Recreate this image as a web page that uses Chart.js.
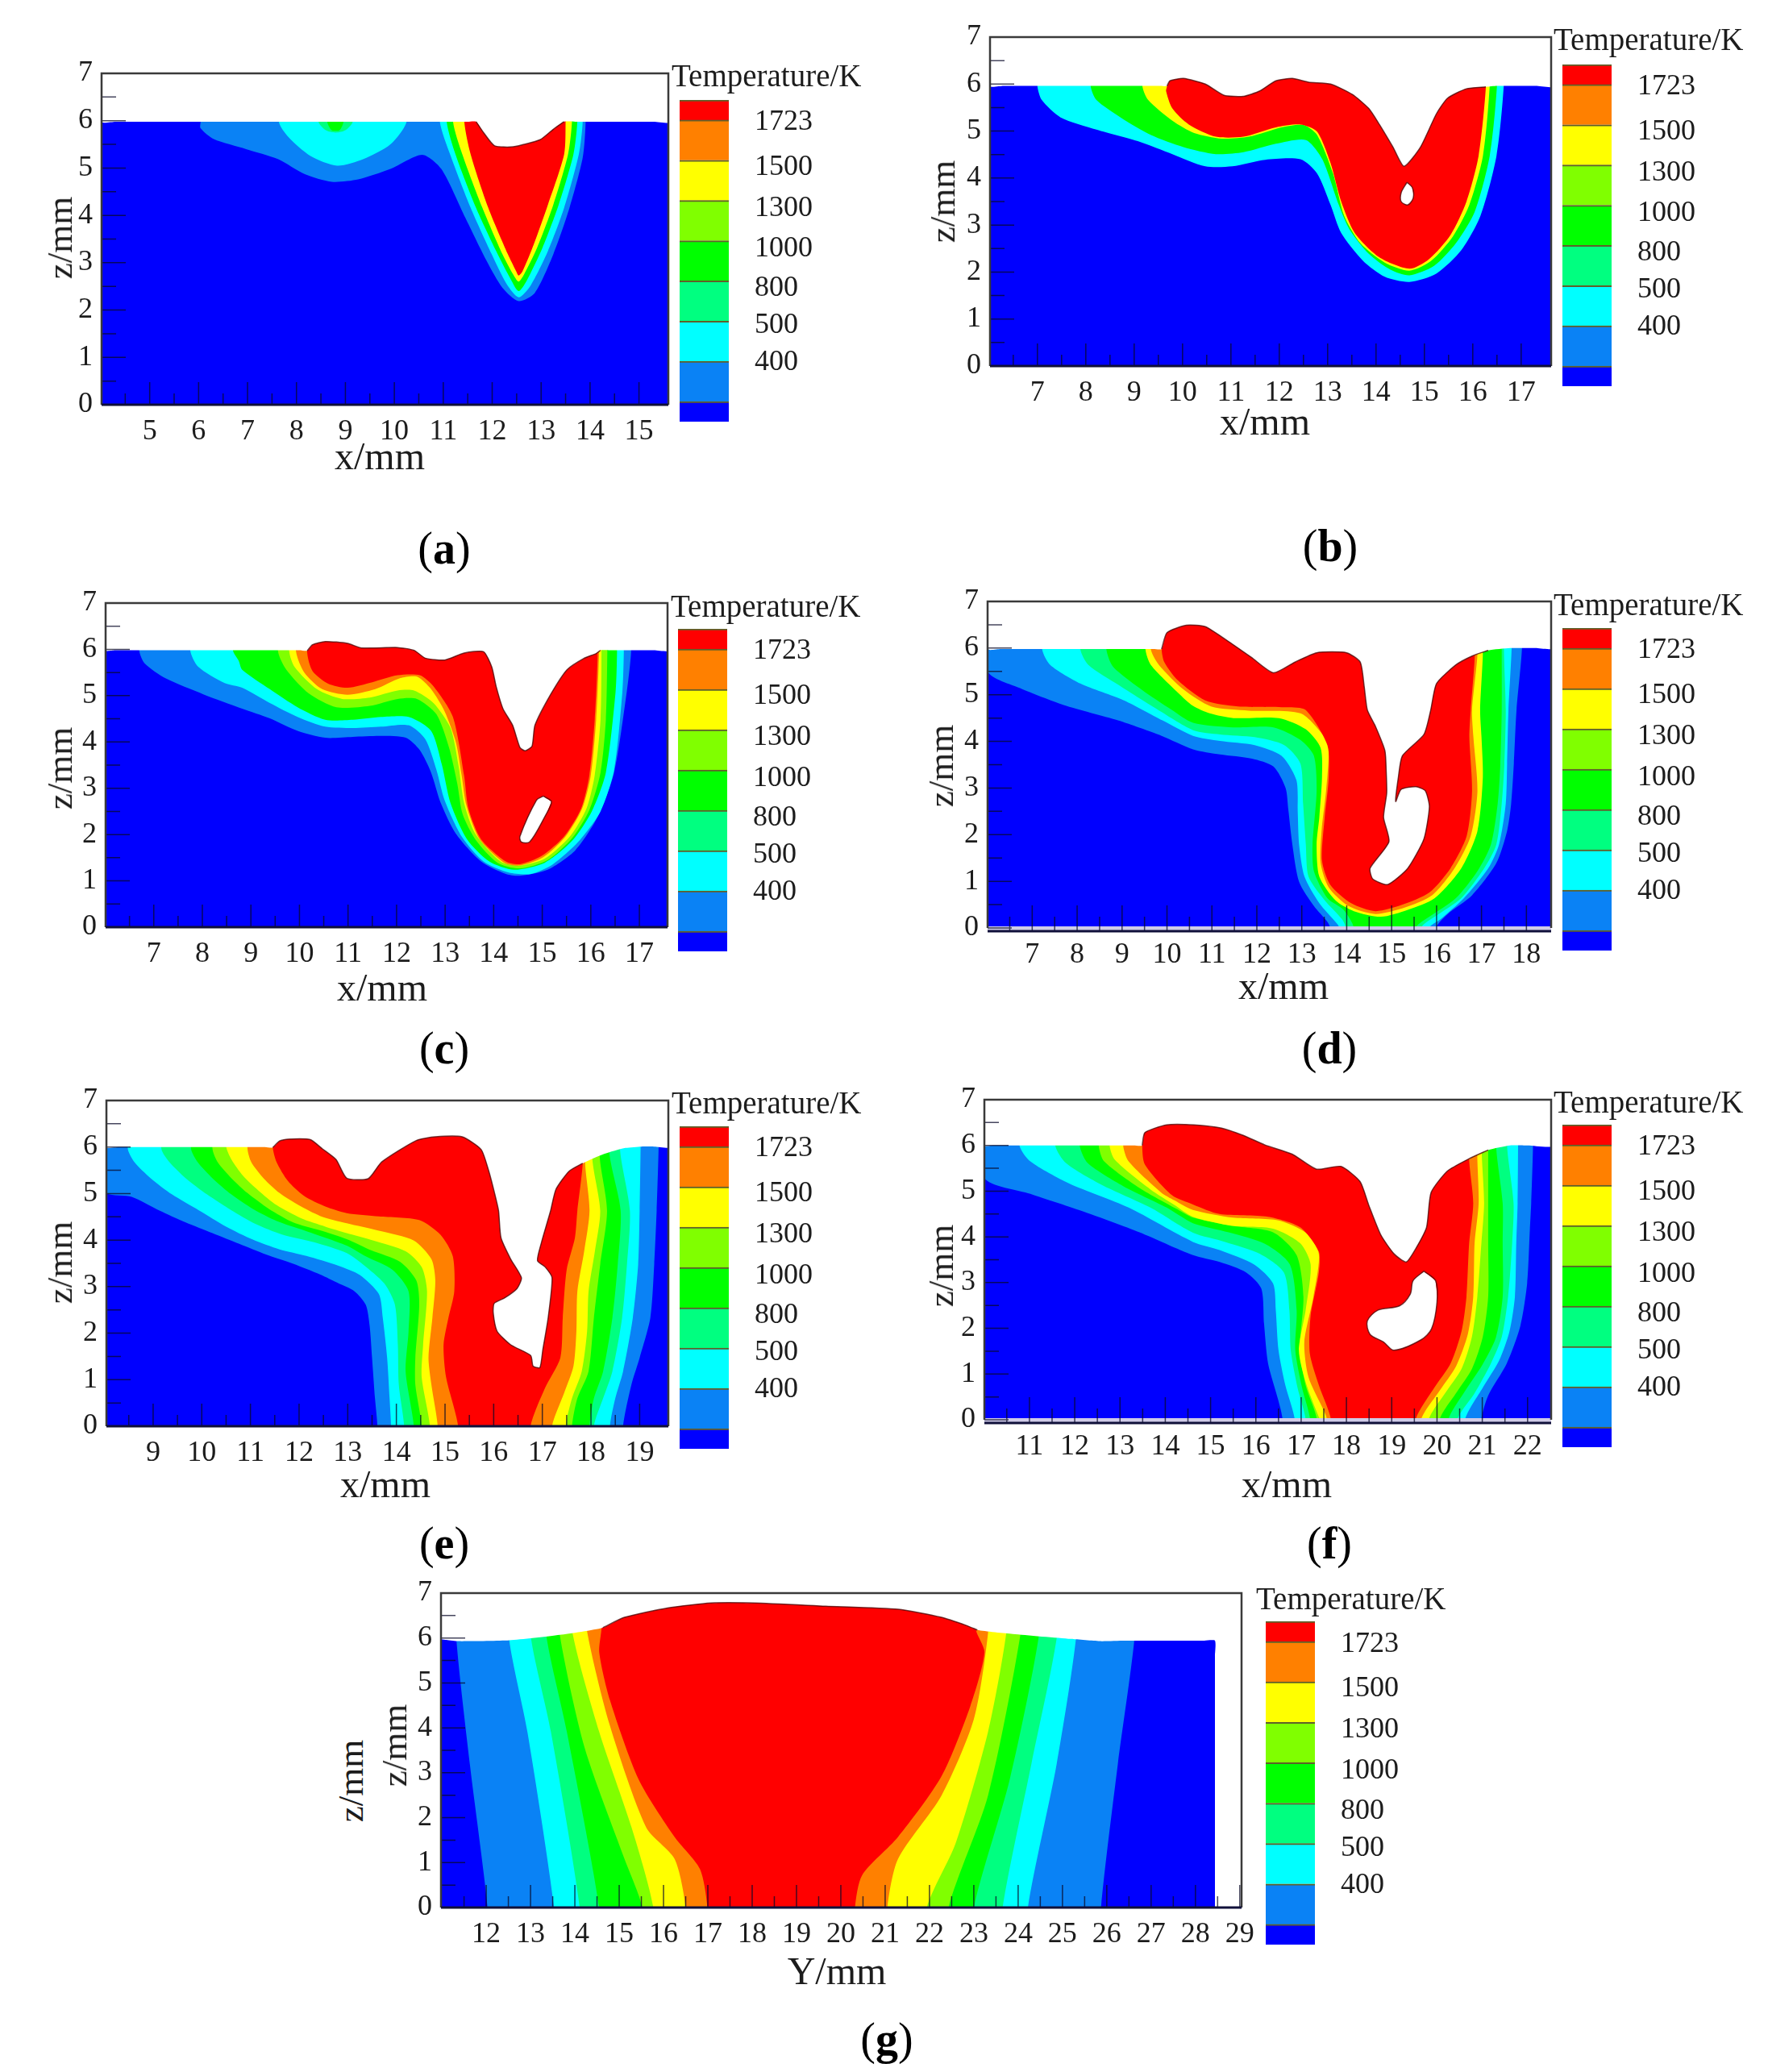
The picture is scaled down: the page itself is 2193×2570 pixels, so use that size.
<!DOCTYPE html>
<html>
<head>
<meta charset="utf-8">
<title>Temperature fields</title>
<script src="https://cdn.jsdelivr.net/npm/chart.js@4/dist/chart.umd.min.js"></script>
<style>
  body { margin: 0; background: #fff; }
  #page { position: relative; width: 2193px; height: 2570px; overflow: hidden; }
  canvas { position: absolute; }
  .lab { position: absolute; font-family: "Liberation Serif", serif; color: #1c1c1c; white-space: nowrap; transform: translate(-50%, calc(-50% - 3px)); }
  .axis { font-size: 48px; }
  .rot { font-size: 45px; transform: translate(calc(-50% - 5px), -50%) rotate(-90deg); }
  .cbar { font-size: 39px; transform: translate(0, -50%); }
  .cap { font-size: 56px; color: #000; }
</style>
</head>
<body>
<div id="page"></div>
<script>
// colour levels, values
const barLabels = ['400', '500', '800', '1000', '1300', '1500', '1723'];
const barTicks = [0.97, 1.89, 2.81, 3.79, 4.81, 5.83, 6.94];
const barEdges = [-0.5, 0, 1, 2, 3, 4, 5, 6, 7, 7.5];
const barColors = ['#0000ff', '#0a82f5', '#00ffff', '#00ff80', '#00ff00', '#80ff00', '#ffff00', '#ff8000', '#ff0000'];
const SKY = barColors[1], CYAN = barColors[2], SPRING = barColors[3], GREEN = barColors[4];
const LIME = barColors[5], YELLOW = barColors[6], ORANGE = barColors[7], RED = barColors[8];

const zTicks = [0, 1, 2, 3, 4, 5, 6, 7];
const a_xTicks = [5, 6, 7, 8, 9, 10, 11, 12, 13, 14, 15];
const b_xTicks = [7, 8, 9, 10, 11, 12, 13, 14, 15, 16, 17];
const c_xTicks = [7, 8, 9, 10, 11, 12, 13, 14, 15, 16, 17];
const d_xTicks = [7, 8, 9, 10, 11, 12, 13, 14, 15, 16, 17, 18];
const e_xTicks = [9, 10, 11, 12, 13, 14, 15, 16, 17, 18, 19];
const f_xTicks = [11, 12, 13, 14, 15, 16, 17, 18, 19, 20, 21, 22];
const g_xTicks = [12, 13, 14, 15, 16, 17, 18, 19, 20, 21, 22, 23, 24, 25, 26, 27, 28, 29];

// (a) isotherms as [x, z] in mm
const a_sky = [[6.04,5.98],[6.04,5.84],[6.31,5.61],[6.97,5.40],[7.62,5.19],[8.17,4.87],[8.72,4.71],[9.26,4.76],[9.92,4.98],[10.57,5.28],[10.96,4.98],[11.45,3.95],[11.89,3.03],[12.21,2.47],[12.54,2.19],[12.87,2.36],[13.25,3.18],[13.58,4.16],[13.85,5.22],[13.91,5.98]];
const a_blobCyan = [[7.64,5.98],[7.84,5.65],[8.28,5.26],[8.83,5.05],[9.37,5.19],[9.92,5.50],[10.25,5.98]];
const a_blobSpring = [[8.45,5.98],[8.6,5.8],[8.8,5.75],[9.0,5.8],[9.15,5.98]];
const a_blobGreen = [[8.63,5.98],[8.72,5.80],[8.88,5.80],[8.96,5.98]];
const a_cyan = [[10.93,5.98],[11.14,5.29],[11.56,4.16],[11.99,3.18],[12.30,2.54],[12.54,2.27],[12.78,2.51],[13.14,3.25],[13.47,4.16],[13.77,5.29],[13.85,5.98]];
const a_green = [[11.07,5.98],[11.25,5.29],[11.67,4.16],[12.08,3.25],[12.38,2.65],[12.54,2.40],[12.70,2.61],[13.03,3.32],[13.36,4.23],[13.66,5.29],[13.74,5.98]];
const a_yellow = [[11.20,5.98],[11.39,5.29],[11.80,4.16],[12.21,3.18],[12.43,2.75],[12.54,2.60],[12.65,2.75],[12.92,3.32],[13.25,4.23],[13.55,5.29],[13.63,5.98]];
const a_red = [[11.43,5.98],[11.56,5.29],[11.92,4.16],[12.32,3.18],[12.49,2.82],[12.54,2.73],[12.62,2.82],[12.85,3.39],[13.14,4.23],[13.47,5.29],[13.50,5.98]];
const a_air = [[4.0,7],[4.0,5.98],[4.3,5.98],[11.5,5.98],[11.67,5.98],[11.83,5.74],[12.05,5.47],[12.43,5.45],[12.98,5.60],[13.25,5.82],[13.47,5.98],[13.7,5.98],[15.3,5.98],[15.7,5.98],[15.7,7]];

// (b)
const b_cyan = [[7.0,5.96],[7.09,5.66],[7.48,5.29],[8.22,5.03],[9.12,4.77],[9.79,4.51],[10.47,4.25],[11.03,4.25],[11.71,4.39],[12.44,4.40],[12.78,4.10],[13.06,3.43],[13.28,2.83],[13.73,2.24],[14.18,1.90],[14.69,1.79],[15.25,1.97],[15.76,2.46],[16.16,3.20],[16.49,4.47],[16.64,5.96]];
const b_green = [[8.10,5.96],[8.22,5.66],[8.72,5.29],[9.34,4.92],[10.02,4.66],[10.69,4.51],[11.26,4.55],[11.93,4.73],[12.55,4.81],[12.89,4.40],[13.23,3.43],[13.45,2.91],[13.85,2.39],[14.30,2.05],[14.69,1.93],[15.2,2.13],[15.65,2.61],[16.04,3.28],[16.35,4.47],[16.5,5.96]];
const b_yellow = [[9.17,5.96],[9.29,5.66],[9.79,5.22],[10.24,4.96],[10.81,4.84],[11.37,4.88],[12.05,5.08],[12.5,5.13],[12.78,4.92],[13.11,4.10],[13.34,3.20],[13.68,2.61],[14.18,2.20],[14.69,2.03],[15.14,2.24],[15.59,2.76],[15.93,3.43],[16.21,4.47],[16.35,5.96]];
const b_red = [[9.68,5.96],[9.66,5.85],[9.79,5.48],[10.13,5.14],[10.69,4.88],[11.26,4.88],[11.93,5.08],[12.44,5.14],[12.78,4.99],[13.06,4.32],[13.28,3.50],[13.56,2.83],[14.07,2.31],[14.69,2.07],[15.09,2.27],[15.54,2.79],[15.87,3.50],[16.12,4.47],[16.27,5.93]];
const b_air = [[6.0,7],[6.0,5.96],[6.3,5.96],[9.5,5.96],[9.68,5.96],[9.74,6.07],[10.02,6.12],[10.47,6.0],[10.86,5.76],[11.26,5.74],[11.59,5.85],[11.93,6.07],[12.27,6.12],[12.61,6.04],[13.06,6.0],[13.51,5.78],[13.85,5.48],[14.07,5.14],[14.35,4.66],[14.58,4.25],[14.92,4.66],[15.25,5.37],[15.48,5.70],[15.87,5.90],[16.27,5.94],[16.5,5.96],[17.3,5.96],[17.7,5.96],[17.7,7]];
const b_hole = [[14.64,3.91],[14.52,3.69],[14.52,3.50],[14.66,3.43],[14.77,3.58],[14.75,3.80]];

// (c)
const c_sky = [[6.70,5.98],[6.81,5.70],[7.25,5.37],[8.02,5.03],[8.82,4.72],[9.39,4.51],[9.96,4.24],[10.53,4.09],[11.10,4.11],[11.68,4.13],[12.19,4.09],[12.48,3.82],[12.71,3.34],[12.91,2.68],[13.22,2.02],[13.74,1.42],[14.25,1.15],[14.54,1.11],[15.11,1.24],[15.68,1.66],[16.14,2.38],[16.48,3.34],[16.74,5.08],[16.83,5.95]];
const c_cyan = [[7.75,5.98],[7.91,5.63],[8.46,5.27],[8.82,5.17],[9.39,4.84],[9.96,4.54],[10.53,4.33],[11.10,4.30],[11.68,4.33],[12.25,4.36],[12.59,4.06],[12.82,3.40],[12.99,2.74],[13.34,1.96],[13.79,1.42],[14.31,1.18],[14.77,1.15],[15.22,1.36],[15.74,1.84],[16.20,2.50],[16.48,3.40],[16.65,5.08],[16.68,5.95]];
const c_green = [[8.63,5.98],[8.75,5.75],[8.82,5.56],[9.39,5.14],[9.96,4.75],[10.53,4.48],[11.10,4.48],[11.68,4.54],[12.25,4.54],[12.71,4.24],[12.93,3.52],[13.11,2.68],[13.45,1.90],[13.91,1.42],[14.42,1.24],[15.05,1.39],[15.62,1.87],[16.02,2.50],[16.31,3.34],[16.51,5.08],[16.54,5.95]];
const c_lime = [[9.56,5.95],[9.73,5.56],[10.19,5.05],[10.76,4.75],[11.45,4.78],[12.02,4.93],[12.42,4.93],[12.82,4.60],[13.08,3.88],[13.25,3.10],[13.36,2.44],[13.62,1.90],[14.08,1.39],[14.54,1.27],[15.11,1.45],[15.62,1.93],[15.97,2.53],[16.20,3.34],[16.31,4.48],[16.34,5.95]];
const c_yellow = [[9.79,5.95],[9.90,5.62],[10.36,5.14],[10.88,4.93],[11.45,4.96],[12.02,5.11],[12.36,5.11],[12.76,4.84],[13.11,4.30],[13.28,3.46],[13.39,2.68],[13.62,2.02],[14.14,1.42],[14.54,1.33],[15.05,1.48],[15.57,1.96],[15.91,2.56],[16.08,3.28],[16.20,4.48],[16.22,5.95]];
const c_orange = [[9.93,5.95],[10.10,5.50],[10.47,5.14],[10.99,5.02],[11.56,5.14],[12.08,5.38],[12.42,5.41],[12.71,5.14],[12.99,4.66],[13.22,4.0],[13.34,3.28],[13.44,2.62],[13.71,1.90],[14.22,1.39],[14.54,1.33],[15.02,1.51],[15.48,1.96],[15.82,2.56],[16.0,3.28],[16.11,4.48],[16.17,5.92]];
const c_red = [[10.16,5.92],[10.27,5.53],[10.59,5.26],[10.99,5.17],[11.50,5.29],[12.02,5.44],[12.48,5.44],[12.76,5.20],[13.16,4.54],[13.39,3.28],[13.48,2.56],[13.74,1.90],[14.25,1.42],[14.54,1.36],[14.99,1.54],[15.45,1.96],[15.80,2.56],[15.97,3.28],[16.08,4.48],[16.14,5.86]];
const c_air = [[6.0,7],[6.0,5.98],[6.2,5.98],[10.0,5.98],[10.16,5.97],[10.27,6.10],[10.53,6.17],[10.99,6.13],[11.28,6.03],[12.02,6.04],[12.36,5.98],[12.59,5.81],[12.99,5.77],[13.39,5.92],[13.79,5.95],[13.96,5.62],[14.05,5.20],[14.19,4.72],[14.39,4.36],[14.54,3.88],[14.65,3.81],[14.79,3.91],[14.85,4.36],[15.17,5.02],[15.51,5.56],[15.85,5.80],[16.11,5.91],[16.20,5.98],[16.4,5.98],[17.3,5.98],[17.7,5.98],[17.7,7]];
const c_hole = [[15.02,2.83],[14.88,2.74],[14.54,1.96],[14.57,1.84],[14.74,1.84],[15.05,2.38],[15.19,2.71]];

// (d)
const d_sky = [[6.01,5.50],[6.73,5.14],[7.70,4.78],[8.91,4.45],[9.88,4.12],[10.58,3.83],[11.18,3.72],[11.89,3.63],[12.37,3.46],[12.64,3.0],[12.70,2.54],[12.79,1.79],[12.94,0.99],[13.27,0.47],[13.57,0.13],[13.63,0],[15.99,0],[16.25,0.30],[16.79,0.70],[17.33,1.39],[17.57,2.08],[17.66,2.66],[17.72,3.52],[17.78,4.67],[17.90,5.98]];
const d_cyan = [[7.22,5.98],[7.4,5.64],[8.07,5.24],[9.04,4.88],[9.9,4.45],[10.58,4.12],[11.18,4.01],[11.95,3.92],[12.55,3.69],[12.88,3.17],[12.91,2.48],[12.94,1.79],[13.06,1.10],[13.39,0.53],[13.75,0.13],[13.84,0],[15.84,0],[16.08,0.18],[16.61,0.64],[17.15,1.28],[17.39,1.79],[17.54,2.66],[17.57,3.52],[17.60,4.67],[17.67,5.98]];
const d_spring = [[8.07,5.98],[8.25,5.64],[8.92,5.21],[9.76,4.7],[10.58,4.24],[11.18,4.15],[11.95,4.09],[12.61,3.92],[12.97,3.52],[13.03,2.66],[13.09,1.79],[13.15,1.10],[13.51,0.59],[13.90,0.18],[13.98,0],[15.66,0],[15.96,0.24],[16.55,0.64],[17.06,1.28],[17.33,1.79],[17.45,2.66],[17.51,3.52],[17.54,4.67],[17.50,5.95]];
const d_green = [[8.65,5.98],[8.8,5.6],[9.45,5.1],[10.1,4.68],[10.58,4.4],[11.48,4.3],[12.37,4.3],[12.97,4.03],[13.27,3.69],[13.33,2.94],[13.24,1.79],[13.27,1.22],[13.57,0.64],[13.93,0.39],[14.16,0],[15.54,0],[15.84,0.24],[16.43,0.64],[16.91,1.22],[17.21,1.79],[17.36,2.66],[17.42,3.52],[17.45,4.67],[17.45,5.9]];
const d_yellow = [[9.52,5.98],[9.64,5.64],[10.25,5.04],[10.58,4.76],[10.95,4.6],[11.48,4.5],[12.49,4.5],[13.09,4.26],[13.42,3.86],[13.45,3.23],[13.39,2.37],[13.33,1.79],[13.39,1.10],[13.75,0.59],[14.16,0.36],[14.76,0.24],[15.36,0.39],[15.96,0.64],[16.55,1.28],[16.91,2.08],[17.03,3.23],[17.0,4.09],[16.97,4.67],[17.03,5.87]];
const d_orange = [[9.64,5.98],[9.82,5.64],[10.37,5.11],[10.98,4.75],[11.82,4.66],[12.97,4.6],[13.51,4.09],[13.60,3.80],[13.54,2.94],[13.44,2.08],[13.42,1.39],[13.60,0.87],[14.04,0.47],[14.64,0.30],[15.30,0.44],[15.90,0.70],[16.40,1.28],[16.76,1.97],[16.91,2.94],[16.82,4.09],[16.79,4.67],[16.91,5.87]];
const d_red = [[9.88,5.98],[9.94,5.70],[10.24,5.31],[10.85,4.88],[11.58,4.75],[12.67,4.73],[13.09,4.67],[13.57,3.92],[13.60,3.23],[13.51,2.37],[13.45,1.45],[13.63,0.93],[14.10,0.53],[14.64,0.36],[15.24,0.50],[15.84,0.76],[16.31,1.28],[16.67,1.97],[16.79,2.94],[16.73,4.09],[16.76,4.67],[16.85,5.83]];
const d_air = [[6.0,7],[6.0,5.98],[6.3,5.98],[9.7,5.98],[9.88,5.98],[10.0,6.33],[10.43,6.49],[10.85,6.46],[11.34,6.16],[11.88,5.80],[12.37,5.47],[12.85,5.70],[13.33,5.90],[14.0,5.90],[14.30,5.70],[14.39,5.17],[14.46,4.67],[14.64,4.32],[14.85,3.80],[14.88,3.34],[14.89,2.89],[14.82,2.37],[14.94,1.85],[14.52,1.28],[14.58,1.05],[14.91,0.93],[15.36,1.28],[15.72,1.91],[15.84,2.60],[15.75,2.94],[15.54,3.03],[15.21,2.97],[15.09,2.71],[15.15,3.23],[15.24,3.69],[15.72,4.15],[15.87,4.67],[16.0,5.24],[16.43,5.64],[16.79,5.83],[17.15,5.95],[17.64,6.0],[18.2,6.0],[18.6,6.0],[18.6,7]];

// (e)
const e_sky = [[8.0,5.05],[8.56,4.93],[9.12,4.64],[9.67,4.38],[10.22,4.15],[10.77,3.92],[11.32,3.69],[11.88,3.49],[12.43,3.26],[12.81,3.07],[13.14,2.90],[13.37,2.61],[13.45,2.16],[13.50,1.47],[13.56,0.60],[13.61,0],[18.66,0],[18.83,0.89],[19.0,1.47],[19.22,2.33],[19.30,3.48],[19.35,4.63],[19.39,6.0]];
const e_cyan = [[8.48,5.96],[8.62,5.67],[8.95,5.33],[9.39,4.98],[9.94,4.64],[10.50,4.29],[11.05,4.01],[11.60,3.80],[12.15,3.66],[12.81,3.45],[13.25,3.25],[13.64,2.84],[13.72,2.33],[13.81,1.47],[13.86,0.60],[13.89,0],[18.39,0],[18.50,0.60],[18.66,1.18],[18.86,2.33],[18.97,3.48],[19.0,4.63],[19.02,6]];
const e_spring = [[9.17,5.96],[9.34,5.67],[9.67,5.33],[10.11,4.98],[10.61,4.64],[11.10,4.35],[11.65,4.12],[12.32,3.95],[12.98,3.72],[13.31,3.48],[13.75,3.07],[13.97,2.61],[14.03,1.75],[14.05,0.89],[14.16,0],[18.06,0],[18.25,0.60],[18.44,1.18],[18.64,2.33],[18.74,3.48],[18.80,4.63],[18.60,5.91]];
const e_green = [[9.78,5.96],[9.92,5.67],[10.22,5.33],[10.61,4.98],[11.05,4.67],[11.54,4.41],[12.10,4.21],[12.98,3.88],[13.37,3.65],[13.92,3.36],[14.25,2.90],[14.25,2.04],[14.19,1.18],[14.36,0],[17.97,0],[18.06,0.60],[18.25,1.18],[18.44,2.33],[18.55,3.48],[18.61,4.63],[18.38,5.85]];
const e_lime = [[10.22,5.96],[10.33,5.67],[10.61,5.33],[10.94,5.01],[11.38,4.67],[11.88,4.38],[12.43,4.21],[12.98,4.02],[13.48,3.78],[14.08,3.53],[14.41,3.13],[14.47,2.61],[14.39,1.47],[14.39,0.89],[14.52,0],[17.61,0],[17.72,0.60],[17.95,1.18],[18.06,2.33],[18.19,3.48],[18.33,4.63],[18.18,5.78]];
const e_yellow = [[10.50,6.02],[10.61,5.73],[10.85,5.38],[11.16,5.07],[11.54,4.75],[12.04,4.47],[12.54,4.29],[12.98,4.15],[13.53,3.99],[14.19,3.76],[14.52,3.42],[14.63,2.90],[14.55,1.75],[14.52,1.06],[14.69,0],[17.48,0],[17.61,0.60],[17.81,1.18],[17.92,2.04],[17.95,2.90],[18.08,3.76],[18.19,4.63],[18.03,5.72]];
const e_orange = [[10.94,5.96],[11.02,5.67],[11.27,5.33],[11.60,5.01],[11.99,4.75],[12.43,4.52],[12.98,4.36],[13.64,4.20],[14.36,3.99],[14.72,3.59],[14.80,3.13],[14.74,2.33],[14.66,1.47],[14.72,0.89],[14.85,0],[17.20,0],[17.45,0.72],[17.64,1.29],[17.70,2.04],[17.72,2.90],[17.86,3.76],[17.97,4.63],[17.88,5.65]];
const e_red = [[11.46,5.99],[11.54,5.67],[11.77,5.27],[12.10,4.95],[12.54,4.72],[12.98,4.58],[13.64,4.51],[14.47,4.43],[14.91,4.11],[15.16,3.65],[15.19,2.90],[15.07,2.33],[14.97,1.75],[15.02,1.06],[15.27,0],[16.76,0],[17.06,0.83],[17.37,1.47],[17.42,2.33],[17.50,3.36],[17.67,4.05],[17.72,4.63],[17.83,5.65]];
const e_air = [[8.0,7],[8.0,6],[8.3,6],[11.3,6],[11.46,5.99],[11.60,6.13],[11.77,6.17],[12.23,6.16],[12.48,5.96],[12.76,5.73],[12.98,5.33],[13.42,5.32],[13.70,5.68],[14.41,6.14],[14.80,6.22],[15.35,6.22],[15.74,5.95],[15.90,5.48],[16.02,5.0],[16.10,4.63],[16.15,4.05],[16.35,3.59],[16.57,3.19],[16.48,2.96],[16.23,2.76],[16.01,2.64],[15.99,2.44],[16.07,2.04],[16.35,1.75],[16.76,1.52],[16.81,1.29],[16.95,1.26],[17.01,1.64],[17.12,2.33],[17.20,3.19],[17.06,3.42],[16.90,3.56],[16.98,3.94],[17.17,4.63],[17.28,5.09],[17.55,5.48],[17.83,5.65],[18.27,5.85],[18.71,5.98],[19.04,6.01],[19.3,6.01],[19.7,6.01],[19.7,7]];

// (f)
const f_sky = [[10.0,5.30],[11.02,4.94],[12.23,4.54],[13.43,4.10],[14.61,3.60],[15.20,3.45],[15.79,3.22],[16.12,2.87],[16.18,2.11],[16.27,1.23],[16.50,0.41],[16.59,0],[20.98,0],[21.13,0.53],[21.54,1.23],[21.84,2.05],[21.99,2.98],[22.05,4.15],[22.08,4.74],[22.12,6.0]];
const f_cyan = [[10.78,6],[11.02,5.65],[11.87,5.17],[13.19,4.64],[14.61,3.89],[15.20,3.71],[15.97,3.39],[16.38,2.98],[16.44,2.40],[16.50,1.52],[16.65,0.76],[16.86,0],[20.62,0],[21.01,0.70],[21.37,1.29],[21.60,1.93],[21.72,2.69],[21.75,3.86],[21.78,4.74],[21.79,6]];
const f_spring = [[11.57,6],[11.81,5.61],[12.59,5.14],[13.67,4.64],[14.61,4.09],[15.32,3.89],[16.09,3.63],[16.62,3.22],[16.74,2.40],[16.77,1.52],[16.92,0.70],[17.10,0],[20.45,0],[20.83,0.58],[21.19,1.23],[21.43,1.81],[21.57,2.69],[21.66,3.86],[21.69,4.74],[21.55,5.95]];
const f_green = [[12.11,6],[12.29,5.61],[13.07,5.11],[14.03,4.64],[14.61,4.3],[15.4,4.1],[16.2,3.85],[16.75,3.4],[16.9,2.4],[16.87,1.52],[17.02,0.70],[17.2,0],[20.25,0],[20.6,0.6],[21.0,1.2],[21.3,1.8],[21.45,2.69],[21.45,3.86],[21.45,4.74],[21.31,5.92]];
const f_lime = [[12.53,6],[12.65,5.65],[13.43,5.07],[14.27,4.6],[14.61,4.42],[15.49,4.24],[16.38,4.1],[16.9,3.6],[17.05,2.69],[16.97,1.52],[17.1,0.75],[17.35,0],[20.06,0],[20.42,0.58],[20.77,1.11],[21.01,1.81],[21.13,2.69],[21.13,3.86],[21.13,4.74],[21.13,5.86]];
const f_yellow = [[12.77,6],[12.89,5.68],[13.67,5.04],[14.2,4.7],[14.61,4.44],[15.49,4.24],[16.38,4.18],[16.98,3.86],[17.21,3.39],[17.10,2.40],[16.95,1.52],[17.10,0.82],[17.39,0.06],[17.42,0],[19.82,0],[20.18,0.58],[20.54,1.11],[20.77,1.81],[20.89,2.69],[20.98,3.86],[21.04,4.74],[20.99,5.79]];
const f_orange = [[13.07,6],[13.19,5.65],[13.91,4.97],[14.2,4.8],[14.61,4.59],[15.49,4.42],[16.50,4.36],[17.10,4.09],[17.39,3.63],[17.27,2.69],[17.07,1.70],[17.16,0.94],[17.51,0.18],[17.57,0],[19.65,0],[20.06,0.64],[20.42,1.17],[20.68,1.87],[20.80,2.69],[20.83,3.86],[20.92,4.74],[20.89,5.75]];
const f_red = [[13.49,6],[13.55,5.58],[14.15,4.91],[14.61,4.71],[15.20,4.50],[16.27,4.44],[16.98,4.21],[17.39,3.68],[17.39,3.22],[17.21,2.28],[17.19,1.46],[17.39,0.76],[17.66,0],[19.53,0],[19.94,0.70],[20.30,1.23],[20.54,1.93],[20.65,2.69],[20.71,3.86],[20.80,4.74],[20.71,5.68]];
const f_air = [[9.9,7],[9.9,6],[10.2,6],[13.3,6],[13.49,6],[13.55,6.28],[14.03,6.45],[14.63,6.45],[15.24,6.38],[15.72,6.22],[16.20,6.01],[16.80,5.81],[17.34,5.48],[17.88,5.54],[18.30,5.21],[18.49,4.70],[18.76,4.04],[19.05,3.63],[19.32,3.45],[19.53,3.74],[19.77,4.21],[19.87,4.97],[20.23,5.44],[20.71,5.71],[21.13,5.90],[21.61,6.0],[22.0,6.0],[22.6,6.0],[22.6,7]];
const f_hole = [[19.71,3.25],[19.47,3.04],[19.41,2.75],[19.17,2.49],[18.70,2.40],[18.46,2.16],[18.52,1.87],[18.82,1.70],[19.05,1.52],[19.65,1.75],[19.88,1.99],[20.0,2.57],[19.97,3.04]];

// (g)
const g_sky = [[11.33,5.93],[11.63,3.20],[12.03,0],[25.87,0],[26.25,3.20],[26.62,5.95]];
const g_cyan = [[12.52,5.95],[12.93,3.91],[13.53,0],[24.22,0],[24.87,3.20],[25.30,5.95]];
const g_spring = [[13.01,6.0],[13.46,3.91],[14.11,0],[23.65,0],[24.30,3.20],[24.87,6.0]];
const g_green = [[13.36,6.03],[13.82,3.91],[14.55,0],[23.0,0],[23.81,2.85],[24.46,6.0]];
const g_lime = [[13.66,6.07],[14.22,3.56],[15.12,1.08],[15.52,0],[22.43,0],[23.32,2.49],[24.05,6.07]];
const g_yellow = [[13.95,6.10],[14.55,3.91],[15.28,1.78],[15.77,0],[21.94,0],[22.59,1.43],[23.32,3.91],[23.73,6.10]];
const g_orange = [[14.27,6.18],[14.79,4.05],[15.61,1.78],[16.25,1.08],[16.50,0],[21.05,0],[21.29,1.08],[22.27,2.49],[23.0,4.19],[23.32,6.10]];
const g_red = [[14.60,6.21],[14.55,5.68],[14.79,4.62],[15.44,2.85],[16.25,1.57],[16.82,0.86],[16.99,0],[20.32,0],[20.48,0.72],[21.29,1.57],[22.27,2.92],[22.92,4.48],[23.24,5.68],[23.05,6.18]];
const g_air = [[10.9,7],[10.9,6.0],[11.1,5.96],[11.38,5.93],[12.52,5.95],[13.66,6.07],[14.63,6.23],[15.12,6.46],[16.09,6.67],[17.07,6.78],[18.04,6.78],[19.66,6.71],[21.29,6.64],[22.27,6.46],[22.83,6.28],[23.08,6.18],[23.88,6.09],[25.19,5.98],[25.84,5.93],[26.4,5.94],[28.2,5.94],[28.44,5.94],[28.44,5.6],[28.44,0],[28.44,-1],[29.2,-1],[29.2,7]];

// page layout of the seven panels
const panels = [
  { tag: 'a', xMin: 4.017, xMax: 15.6, box: [126, 91, 829, 502], bar: [843, 124, 61, 399], xTicks: a_xTicks, redEdge: [11.67, 13.47], bands: [[a_sky, SKY], [a_blobCyan, CYAN], [a_blobSpring, SPRING], [a_blobGreen, GREEN], [a_cyan, CYAN], [a_green, GREEN], [a_yellow, YELLOW], [a_red, RED]], air: a_air, holes: [],
    xTitle: ['x/mm', 471, 568], zTitles: [[79, 295]], legend: [833, 93], caption: [551, 683] },
  { tag: 'b', xMin: 6.02, xMax: 17.62, box: [1228, 46, 1924, 454], bar: [1938, 80, 61, 399], xTicks: b_xTicks, redEdge: [9.68, 16.27], bands: [[b_cyan, CYAN], [b_green, GREEN], [b_yellow, YELLOW], [b_red, RED]], air: b_air, holes: [b_hole],
    xTitle: ['x/mm', 1569, 525], zTitles: [[1174, 250]], legend: [1927, 48], caption: [1650, 680] },
  { tag: 'c', xMin: 6.008, xMax: 17.58, box: [131, 748, 828, 1150], bar: [841, 780, 61, 400], xTicks: c_xTicks, redEdge: [10.16, 16.2], bands: [[c_sky, SKY], [c_cyan, CYAN], [c_green, GREEN], [c_lime, LIME], [c_yellow, YELLOW], [c_orange, ORANGE], [c_red, RED]], air: c_air, holes: [c_hole],
    xTitle: ['x/mm', 474, 1227], zTitles: [[79, 953]], legend: [832, 751], caption: [551, 1303] },
  { tag: 'd', xMin: 6.007, xMax: 18.55, box: [1225, 746, 1924, 1151], bar: [1938, 779, 61, 400], xTicks: d_xTicks, strip: true, redEdge: [9.88, 17.15], bands: [[d_sky, SKY], [d_cyan, CYAN], [d_spring, SPRING], [d_green, GREEN], [d_yellow, YELLOW], [d_orange, ORANGE], [d_red, RED]], air: d_air, holes: [],
    xTitle: ['x/mm', 1592, 1225], zTitles: [[1172, 950]], legend: [1927, 749], caption: [1649, 1303] },
  { tag: 'e', xMin: 8.04, xMax: 19.59, box: [132, 1365, 829, 1769], bar: [843, 1397, 61, 400], xTicks: e_xTicks, redEdge: [11.46, 17.83], bands: [[e_sky, SKY], [e_cyan, CYAN], [e_spring, SPRING], [e_green, GREEN], [e_lime, LIME], [e_yellow, YELLOW], [e_orange, ORANGE], [e_red, RED]], air: e_air, holes: [],
    xTitle: ['x/mm', 478, 1843], zTitles: [[79, 1566]], legend: [833, 1367], caption: [551, 1917] },
  { tag: 'f', xMin: 10.005, xMax: 22.52, box: [1221, 1364, 1924, 1761], bar: [1938, 1395, 61, 400], xTicks: f_xTicks, strip: true, redEdge: [13.49, 21.13], bands: [[f_sky, SKY], [f_cyan, CYAN], [f_spring, SPRING], [f_green, GREEN], [f_lime, LIME], [f_yellow, YELLOW], [f_orange, ORANGE], [f_red, RED]], air: f_air, holes: [f_hole],
    xTitle: ['x/mm', 1596, 1843], zTitles: [[1172, 1570]], legend: [1927, 1366], caption: [1649, 1917] },
  { tag: 'g', xMin: 10.98, xMax: 29.04, box: [547, 1976, 1540, 2366], bar: [1570, 2011, 61, 401], xTicks: g_xTicks, redEdge: [14.63, 23.08], bands: [[g_sky, SKY], [g_cyan, CYAN], [g_spring, SPRING], [g_green, GREEN], [g_lime, LIME], [g_yellow, YELLOW], [g_orange, ORANGE], [g_red, RED]], air: g_air, holes: [],
    xTitle: ['Y/mm', 1038, 2447], zTitles: [[440, 2209], [494, 2165]], legend: [1558, 1982], caption: [1100, 2532] }
];

const page = document.getElementById('page');
const serif = 'Liberation Serif';
const inkColor = '#1c1c1c';
const edgeColor = 'rgba(70,0,0,0.75)';
const marginLeft = 70, marginTop = 30, marginRight = 30, marginBottom = 70;

function addCanvas(left, top, width, height) {
  const canvas = document.createElement('canvas');
  canvas.width = width;
  canvas.height = height;
  canvas.style.left = left + 'px';
  canvas.style.top = top + 'px';
  page.appendChild(canvas);
  return canvas;
}

function addLabel(html, cls, x, y) {
  const el = document.createElement('div');
  el.className = 'lab ' + cls;
  el.innerHTML = html;
  el.style.left = x + 'px';
  el.style.top = y + 'px';
  page.appendChild(el);
}

function polygon(points, color, tension) {
  return {
    data: points.map(([x, y]) => ({ x, y })),
    showLine: true,
    fill: 'shape',
    backgroundColor: color,
    borderColor: color,
    borderWidth: 0,
    pointRadius: 0,
    capBezierPoints: false,
    tension: tension
  };
}

// a band is open at the top, the air polygon masks everything above the surface.
// where it leaves through the bottom axis the path runs below z=0 so the curve stays straight there
function band(points, color) {
  const first = points[0], last = points[points.length - 1];
  const path = [[first[0], 7]];
  points.forEach((pt, i) => {
    path.push(pt);
    const next = points[i + 1];
    if (next && pt[1] === 0 && next[1] === 0) path.push([pt[0], -1], [next[0], -1]);
  });
  path.push([last[0], 7]);
  return polygon(path, color, 0.25);
}

function outline(points, tension) {
  return {
    data: points.map(([x, y]) => ({ x, y })),
    showLine: true,
    fill: false,
    borderColor: edgeColor,
    borderWidth: 1.5,
    pointRadius: 0,
    capBezierPoints: false,
    tension: tension
  };
}

const frameAndTicks = {
  id: 'frameAndTicks',
  afterDatasetsDraw(chart, args, opts) {
    const { ctx, chartArea: area, scales: { x, y } } = chart;
    const axisY = opts.strip ? area.bottom + 4 : area.bottom;
    ctx.save();
    if (opts.strip) {
      ctx.fillStyle = '#cfcbe8';
      ctx.fillRect(area.left, area.bottom - 2, area.right - area.left, 5);
    }
    ctx.strokeStyle = 'rgba(10,10,40,0.75)';
    ctx.lineWidth = 1.5;
    ctx.beginPath();
    x.ticks.forEach(t => {
      const major = x.getPixelForValue(t.value);
      if (major < area.right) {
        ctx.moveTo(major, axisY);
        ctx.lineTo(major, area.bottom - 28);
      }
      const minor = x.getPixelForValue(t.value - 0.5);
      if (minor > area.left) {
        ctx.moveTo(minor, axisY);
        ctx.lineTo(minor, area.bottom - 14);
      }
    });
    y.ticks.forEach(t => {
      const major = y.getPixelForValue(t.value);
      ctx.moveTo(area.left, major);
      ctx.lineTo(area.left + 30, major);
      if (t.value < 7) {
        const minor = y.getPixelForValue(t.value + 0.5);
        ctx.moveTo(area.left, minor);
        ctx.lineTo(area.left + 18, minor);
      }
    });
    ctx.stroke();
    ctx.strokeStyle = '#3a3a3a';
    ctx.lineWidth = 2.5;
    ctx.beginPath();
    ctx.moveTo(area.left, area.bottom);
    ctx.lineTo(area.left, area.top);
    ctx.lineTo(area.right, area.top);
    ctx.lineTo(area.right, area.bottom);
    ctx.stroke();
    ctx.strokeStyle = '#10103a';
    ctx.lineWidth = 3;
    ctx.beginPath();
    ctx.moveTo(area.left, axisY);
    ctx.lineTo(area.right, axisY);
    ctx.stroke();
    ctx.restore();
  }
};

function fixBox(prop, size) {
  return scale => {
    scale[prop] = size;
    scale.paddingLeft = scale.paddingRight = scale.paddingTop = scale.paddingBottom = 0;
  };
}

function drawPanel(p) {
  const [left, top, right, bottom] = p.box;
  const canvas = addCanvas(left - marginLeft, top - marginTop,
    right - left + marginLeft + marginRight, bottom - top + marginTop + marginBottom);

  const base = [[p.xMin, 0], [p.xMin, 7], [p.xMax, 7], [p.xMax, 0]];
  const datasets = [polygon(base, barColors[0], 0)];
  p.bands.forEach(([points, color]) => datasets.push(band(points, color)));
  datasets.push(polygon(p.air, '#ffffff', 0.2));
  datasets.push(outline(p.air.filter(([x, z]) => x >= p.redEdge[0] && x <= p.redEdge[1] && z > 0), 0.2));
  p.holes.forEach(points => {
    datasets.push(polygon(points, '#ffffff', 0.3));
    datasets.push(outline([...points, points[0]], 0.3));
  });
  // chart.js paints the highest order first
  datasets.forEach((d, i) => { d.order = datasets.length - i; });

  new Chart(canvas, {
    type: 'scatter',
    data: { datasets },
    plugins: [frameAndTicks],
    options: {
      responsive: false,
      animation: false,
      layout: { padding: { top: marginTop, right: marginRight, left: 0, bottom: 0 } },
      plugins: { legend: { display: false }, tooltip: { enabled: false }, frameAndTicks: { strip: !!p.strip } },
      scales: {
        x: {
          type: 'linear', min: p.xMin, max: p.xMax,
          afterBuildTicks: s => { s.ticks = p.xTicks.map(value => ({ value })); },
          afterFit: fixBox('height', marginBottom),
          grid: { display: false, drawTicks: false },
          border: { display: false },
          ticks: { font: { family: serif, size: 36 }, color: inkColor, padding: 12, maxRotation: 0, autoSkip: false, callback: v => v }
        },
        y: {
          type: 'linear', min: 0, max: 7,
          afterBuildTicks: s => { s.ticks = zTicks.map(value => ({ value })); },
          afterFit: fixBox('width', marginLeft),
          grid: { display: false, drawTicks: false },
          border: { display: false },
          ticks: { font: { family: serif, size: 36 }, color: inkColor, padding: 11, autoSkip: false, callback: v => v }
        }
      }
    }
  });
}

function drawColorBar(p) {
  const [left, top, width, height] = p.bar;
  const canvas = addCanvas(left, top - 25, width + 110, height + 50);
  const datasets = barColors.map((color, i) => ({
    data: [[barEdges[i], barEdges[i + 1]]],
    backgroundColor: color,
    borderColor: '#60602a',
    borderWidth: { top: 2, bottom: 0, left: 0, right: 0 },
    borderSkipped: false,
    barPercentage: 1,
    categoryPercentage: 1
  }));
  new Chart(canvas, {
    type: 'bar',
    data: { labels: ['T'], datasets },
    options: {
      responsive: false,
      animation: false,
      layout: { padding: { top: 25, bottom: 25, left: 0, right: 0 } },
      plugins: { legend: { display: false }, tooltip: { enabled: false } },
      scales: {
        x: { display: false, stacked: true },
        y: {
          position: 'right',
          min: -0.5, max: 7.5,
          afterBuildTicks: s => { s.ticks = barTicks.map(value => ({ value })); },
          afterFit: fixBox('width', 110),
          border: { display: false },
          grid: { display: false, drawTicks: false },
          ticks: { font: { family: serif, size: 36 }, color: inkColor, padding: 32, autoSkip: false, callback: (v, i) => barLabels[i] }
        }
      }
    }
  });
}

panels.forEach(p => {
  drawPanel(p);
  drawColorBar(p);
  addLabel(p.xTitle[0], 'axis', p.xTitle[1], p.xTitle[2]);
  p.zTitles.forEach(([x, y]) => addLabel('z/mm', 'rot', x, y));
  addLabel('Temperature/K', 'cbar', p.legend[0], p.legend[1]);
  addLabel('(<b>' + p.tag + '</b>)', 'cap', p.caption[0], p.caption[1]);
});
</script>
</body>
</html>
